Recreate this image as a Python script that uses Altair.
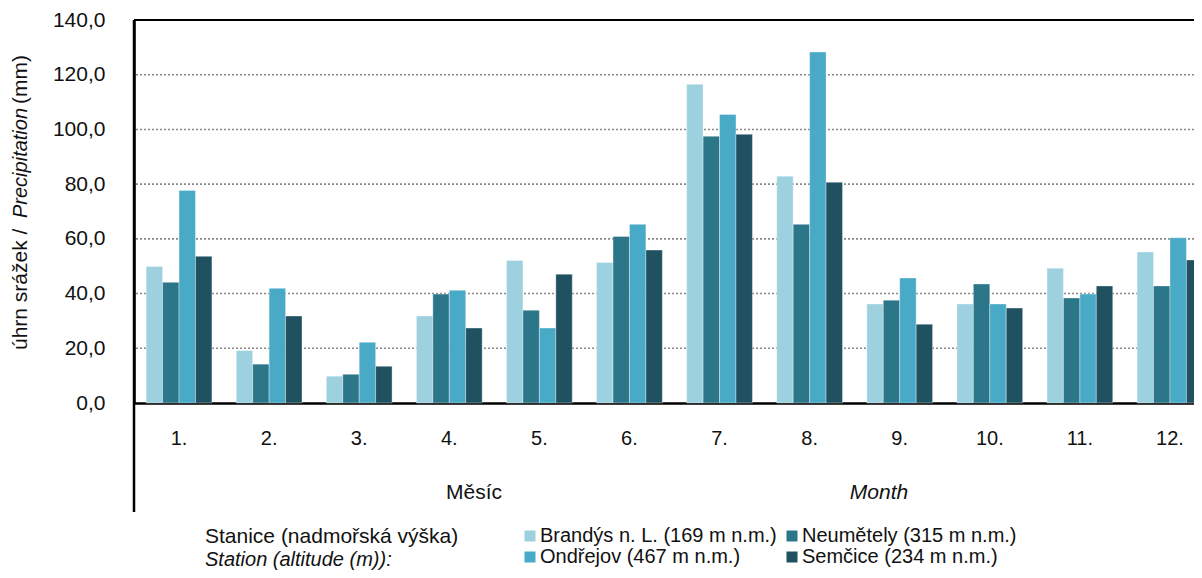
import altair as alt
import pandas as pd

months = ["1.", "2.", "3.", "4.", "5.", "6.", "7.", "8.", "9.", "10.", "11.", "12."]
stations = [
    "Brandýs n. L. (169 m n.m.)",
    "Neumětely (315 m n.m.)",
    "Ondřejov (467 m n.m.)",
    "Semčice (234 m n.m.)",
]
colors = ["#9ed1df", "#2c768a", "#48aac6", "#1f5160"]

brandys = [49.9, 19.2, 9.8, 31.8, 52.1, 51.4, 116.5, 82.9, 36.2, 36.2, 49.3, 55.2]
neumetely = [44.1, 14.2, 10.5, 39.8, 33.9, 60.9, 97.5, 65.3, 37.6, 43.5, 38.4, 42.8]
ondrejov = [77.7, 41.9, 22.2, 41.2, 27.4, 65.3, 105.5, 128.3, 45.7, 36.2, 39.8, 60.4]
semcice = [53.6, 31.8, 13.4, 27.4, 47.1, 55.9, 98.2, 80.7, 28.8, 34.7, 42.8, 52.3]

y_ticks = [0, 20, 40, 60, 80, 100, 120, 140]
grid_values = [20, 40, 60, 80, 100, 120]
top_value = [140]

rows = []
for s, vals in zip(stations, [brandys, neumetely, ondrejov, semcice]):
    for m, v in zip(months, vals):
        rows.append({"month": m, "station": s, "value": v})
df = pd.DataFrame(rows)

FONT = "Liberation Sans"
FS = 20
W = 1060
RANGE_W = 1081
H = 383
TXT = "#111111"

yscale = alt.Scale(domain=[0, 140], nice=False)
y_axis = alt.Axis(
    title=None, values=y_ticks, grid=False, ticks=False, labelPadding=29,
    labelExpr="replace(format(datum.value, '.1f'), '.', ',')",
    labelFontSize=21, domainColor="#000000", domainWidth=2.5,
)

grid = alt.Chart(pd.DataFrame({"v": grid_values})).mark_rule(
    color="#888888", strokeDash=[2, 2], strokeWidth=1.6
).encode(y=alt.Y("v:Q", scale=yscale, axis=y_axis))

bars = alt.Chart(df).mark_bar(stroke="#ffffff", strokeWidth=0.7, strokeOpacity=0.5).encode(
    x=alt.X(
        "month:N",
        sort=months,
        scale=alt.Scale(range=[0, RANGE_W], paddingInner=0.27, paddingOuter=0.135),
        axis=alt.Axis(
            title=None, labelAngle=0, ticks=False, labelPadding=25,
            domainColor="#000000", domainWidth=2.5,
        ),
    ),
    xOffset=alt.XOffset("station:N", sort=stations, scale=alt.Scale(paddingInner=0, paddingOuter=0)),
    y=alt.Y("value:Q", scale=yscale, axis=y_axis),
    color=alt.Color(
        "station:N",
        sort=stations,
        scale=alt.Scale(domain=stations, range=colors),
        legend=alt.Legend(
            title=None, orient="none", legendX=386, legendY=506, columns=2,
            direction="horizontal",
            symbolType="square", symbolSize=121, symbolStrokeWidth=0,
            labelFontSize=FS, labelFont=FONT, labelColor=TXT, labelOffset=0,
            columnPadding=5, rowPadding=1, labelLimit=400, padding=0,
        ),
    ),
)

top_line = alt.Chart(pd.DataFrame({"v": top_value})).mark_rule(
    color="#000000", strokeWidth=2
).encode(y=alt.Y("v:Q", scale=yscale, axis=y_axis), x=alt.value(0), x2=alt.value(RANGE_W))

left_ext = alt.Chart(pd.DataFrame({"a": [0]})).mark_rule(
    color="#000000", strokeWidth=2.5
).encode(x=alt.value(0), y=alt.value(0), y2=alt.value(492))


def label(text, x, y, align="left", italic=False, angle=0, size=21, baseline="middle"):
    kw = dict(align=align, baseline=baseline, font=FONT, fontSize=size, color=TXT)
    if italic:
        kw["fontStyle"] = "italic"
    if angle:
        kw["angle"] = angle
    return alt.Chart(pd.DataFrame({"t": [text]})).mark_text(**kw).encode(
        text="t:N", x=alt.value(x), y=alt.value(y)
    )


texts = [
    label("úhrn srážek /", -113, 330, angle=270, size=21),
    label("Precipitation", -113, 198, italic=True, angle=270, size=20),
    label("(mm)", -113, 84, angle=270, size=21),
    label("Měsíc", 340, 473, align="center"),
    label("Month", 745, 473, align="center", italic=True),
    label("Stanice (nadmořská výška)", 71, 523, baseline="alphabetic"),
    label("Station (altitude (m)):", 71, 546, italic=True, size=20, baseline="alphabetic"),
]

chart = alt.layer(grid, bars, top_line, left_ext, *texts).properties(
    width=W,
    height=H,
    autosize=alt.AutoSizeParams(type="none"),
    padding={"left": 126, "top": 12, "right": 0, "bottom": 167},
).configure_view(stroke=None).configure_axis(
    labelFont=FONT, labelFontSize=FS, labelColor=TXT
)

chart.save("out.html", embed_options={"renderer": "svg", "actions": False})
